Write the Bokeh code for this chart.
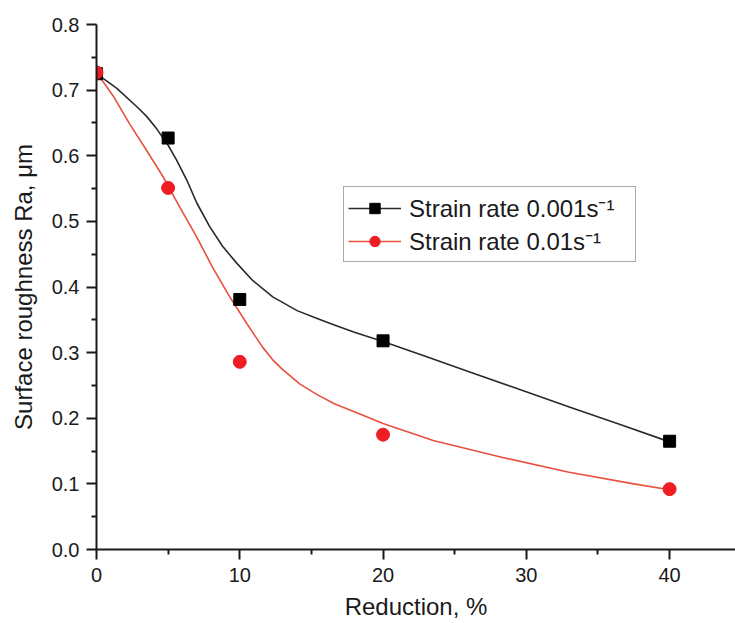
from bokeh.plotting import figure
from bokeh.models import Legend, LegendItem, FixedTicker, Range1d, CustomJSTickFormatter
from bokeh.embed import file_html
from bokeh.resources import INLINE

# measured points
reduction = [0, 5, 10, 20, 40]
ra_0001 = [0.725, 0.627, 0.381, 0.318, 0.165]
ra_001 = [0.727, 0.551, 0.286, 0.175, 0.092]

# fitted curves
curve_x_0001 = [0, 1.4, 2.8, 3.5, 4.2, 5.0, 5.6, 6.3, 7.0, 7.9, 8.8, 9.8, 10.9, 12.3,
                14.0, 15.4, 16.6, 18.0, 20.0, 23.0, 26.0, 29.0, 33.0, 36.5, 40.0]
curve_0001 = [0.725, 0.703, 0.675, 0.660, 0.641, 0.616, 0.593, 0.563, 0.528, 0.492,
              0.462, 0.436, 0.410, 0.385, 0.364, 0.352, 0.342, 0.331, 0.317, 0.294,
              0.271, 0.248, 0.217, 0.191, 0.164]
curve_x_001 = [0, 1.2, 2.3, 3.5, 4.65, 5.8, 7.0, 8.1, 9.3, 10.5, 11.6, 12.3, 13.0,
               14.2, 15.4, 16.6, 18.9, 20.0, 23.5, 28.2, 32.9, 37.5, 40.0]
curve_001 = [0.727, 0.690, 0.649, 0.608, 0.568, 0.522, 0.476, 0.430, 0.385, 0.344,
             0.308, 0.289, 0.274, 0.252, 0.236, 0.222, 0.202, 0.192, 0.166, 0.141,
             0.118, 0.100, 0.091]

x_ticks = [0, 10, 20, 30, 40]
x_minor = [5, 15, 25, 35]
y_ticks = [0.0, 0.1, 0.2, 0.3, 0.4, 0.5, 0.6, 0.7, 0.8]
y_minor = [0.05, 0.15, 0.25, 0.35, 0.45, 0.55, 0.65, 0.75]

label_1 = "Strain rate 0.001s\u207b\u00b9"
label_2 = "Strain rate 0.01s\u207b\u00b9"

FONT = "Liberation Sans"

p = figure(width=735, height=623, output_backend="svg", toolbar_location=None,
           x_range=Range1d(0, 44.6), y_range=Range1d(0, 0.8),
           min_border_left=96, min_border_right=0, min_border_top=24, min_border_bottom=74)
p.outline_line_color = None
p.grid.visible = False
p.background_fill_color = "white"
p.border_fill_color = "white"

for ax in (p.xaxis[0], p.yaxis[0]):
    ax.axis_line_width = 2
    ax.axis_line_color = "#1a1a1a"
    ax.major_tick_line_width = 2
    ax.minor_tick_line_width = 2
    ax.major_tick_line_color = "#1a1a1a"
    ax.minor_tick_line_color = "#1a1a1a"
    ax.major_tick_in = 0
    ax.major_tick_out = 10
    ax.minor_tick_in = 0
    ax.minor_tick_out = 5
    ax.major_label_text_font = FONT
    ax.major_label_text_font_size = "20px"
    ax.major_label_text_color = "#1a1a1a"
    ax.axis_label_text_font = FONT
    ax.axis_label_text_font_size = "24px"
    ax.axis_label_text_font_style = "normal"
    ax.axis_label_text_color = "#1a1a1a"

p.xaxis.ticker = FixedTicker(ticks=x_ticks, minor_ticks=x_minor)
p.yaxis.ticker = FixedTicker(ticks=y_ticks, minor_ticks=y_minor)
p.yaxis.formatter = CustomJSTickFormatter(code="return tick.toFixed(1);")
p.xaxis.major_label_standoff = 8
p.yaxis.major_label_standoff = 7
p.xaxis.axis_label = "Reduction, %"
p.yaxis.axis_label = "Surface roughness Ra, \u03bcm"
p.xaxis.axis_label_standoff = 8
p.yaxis.axis_label_standoff = 12

l1 = p.line(curve_x_0001, curve_0001, line_color="#2a2a2a", line_width=1.6, line_join="round")
l2 = p.line(curve_x_001, curve_001, line_color="#e8503f", line_width=1.6, line_join="round")
s1 = p.scatter(reduction, ra_0001, marker="square", size=12, fill_color="black", line_color="black")
s2 = p.scatter(reduction, ra_001, marker="circle", size=13, fill_color="#ee1d23", line_color="#ee1d23")

legend = Legend(items=[LegendItem(label=label_1, renderers=[l1, s1]),
                       LegendItem(label=label_2, renderers=[l2, s2])],
                location=(247, 287))
legend.label_text_font = FONT
legend.label_text_font_size = "24px"
legend.label_text_color = "#1a1a1a"
legend.glyph_width = 53
legend.glyph_height = 26
legend.label_height = 26
legend.label_width = 222
legend.spacing = 0
legend.padding = 4
legend.margin = 0
legend.label_standoff = 8
legend.border_line_color = "#555555"
legend.border_line_width = 1.5
legend.background_fill_alpha = 1
p.add_layout(legend)

open("out.html", "w").write(file_html(p, INLINE))
